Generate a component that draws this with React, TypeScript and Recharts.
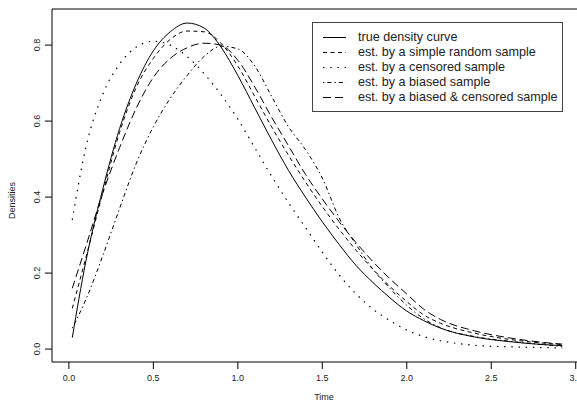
import { LineChart, Line, XAxis, YAxis, ReferenceLine } from 'recharts';

// values
const TIME = [0.02, 0.1, 0.2, 0.3, 0.4, 0.5, 0.6, 0.7, 0.8, 0.9, 1.0, 1.1, 1.2, 1.3, 1.4, 1.5, 1.6, 1.7, 1.8, 1.9, 2.0, 2.1, 2.2, 2.4, 2.6, 2.8, 2.92];
const TRUE_DENSITY = [0.03, 0.23, 0.42, 0.58, 0.7, 0.785, 0.835, 0.858, 0.845, 0.795, 0.72, 0.635, 0.55, 0.47, 0.4, 0.335, 0.275, 0.22, 0.175, 0.135, 0.1, 0.075, 0.055, 0.032, 0.02, 0.012, 0.009];
const SIMPLE_RANDOM = [0.107, 0.24, 0.41, 0.57, 0.69, 0.765, 0.815, 0.837, 0.835, 0.805, 0.745, 0.665, 0.585, 0.51, 0.44, 0.375, 0.315, 0.26, 0.21, 0.165, 0.125, 0.09, 0.068, 0.042, 0.026, 0.016, 0.012];
const CENSORED = [0.34, 0.53, 0.67, 0.75, 0.795, 0.81, 0.8, 0.77, 0.725, 0.67, 0.605, 0.53, 0.455, 0.385, 0.32, 0.255, 0.195, 0.145, 0.105, 0.075, 0.05, 0.033, 0.022, 0.01, 0.006, 0.004, 0.003];
const BIASED = [0.055, 0.13, 0.245, 0.37, 0.49, 0.585, 0.66, 0.72, 0.77, 0.797, 0.79, 0.745, 0.665, 0.585, 0.525, 0.45, 0.345, 0.275, 0.21, 0.16, 0.115, 0.08, 0.056, 0.033, 0.021, 0.012, 0.007];
const BIASED_CENSORED = [0.16, 0.27, 0.41, 0.53, 0.635, 0.715, 0.765, 0.793, 0.805, 0.8, 0.76, 0.69, 0.61, 0.535, 0.46, 0.395, 0.335, 0.28, 0.23, 0.185, 0.145, 0.105, 0.078, 0.048, 0.03, 0.018, 0.013];

const X_TICKS = [0, 0.5, 1, 1.5, 2, 2.5, 3];
const Y_TICKS = [0, 0.2, 0.4, 0.6, 0.8];

const SERIES = [
  { key: 'truth', name: 'true density curve', dash: undefined, width: 1 },
  { key: 'srs', name: 'est. by a simple random sample', dash: '4 3.5', width: 1 },
  { key: 'cens', name: 'est. by a censored sample', dash: '1.5 5.7', width: 1.2 },
  { key: 'biased', name: 'est. by a biased sample', dash: '1.4 3 4 3', width: 1 },
  { key: 'bc', name: 'est. by a biased & censored sample', dash: '8 4', width: 1 },
];

const data = TIME.map((t, i) => ({
  t,
  truth: TRUE_DENSITY[i],
  srs: SIMPLE_RANDOM[i],
  cens: CENSORED[i],
  biased: BIASED[i],
  bc: BIASED_CENSORED[i],
}));

const FONT = '"Liberation Sans", Arial, Helvetica, sans-serif';
const INK = '#222';

const YTick = ({ x, y, payload }: any) => (
  <text x={x} y={y} transform={`rotate(-90 ${x} ${y})`} textAnchor="middle" fontSize={9} fill={INK} fontFamily={FONT}>
    {Number(payload.value).toFixed(1)}
  </text>
);

export default function App() {
  return (
    <div style={{ position: 'absolute', left: 0, top: 0, width: 577, height: 406, overflow: 'hidden', background: '#fff', fontFamily: FONT }}>
      <LineChart width={600} height={406} data={data} margin={{ top: 9, right: 4, left: 0, bottom: 0 }}>
        <XAxis
          type="number"
          dataKey="t"
          domain={[-0.1, 3.12]}
          ticks={X_TICKS}
          allowDataOverflow
          tickFormatter={(v: number) => v.toFixed(1)}
          tick={{ fontSize: 9, fill: INK, fontFamily: FONT }}
          tickSize={7}
          tickMargin={6}
          height={44}
          stroke="#000"
          label={({ viewBox }: any) => (
            <text x={viewBox.x + viewBox.width / 2} y={viewBox.y + 38} textAnchor="middle" fontSize={9} fill={INK} fontFamily={FONT}>
              Time
            </text>
          )}
        />
        <YAxis
          type="number"
          domain={[-0.034, 0.895]}
          ticks={Y_TICKS}
          allowDataOverflow
          tick={<YTick />}
          tickSize={7}
          tickMargin={5}
          width={52}
          stroke="#000"
          label={({ viewBox }: any) => (
            <text
              x={15}
              y={viewBox.y + viewBox.height / 2 + 15}
              transform={`rotate(-90 15 ${viewBox.y + viewBox.height / 2 + 15})`}
              textAnchor="middle"
              fontSize={9}
              fill={INK}
              fontFamily={FONT}
            >
              Densities
            </text>
          )}
        />
        <ReferenceLine y={0.895} stroke="#000" />
        {SERIES.map((s) => (
          <Line
            key={s.key}
            dataKey={s.key}
            type="monotone"
            stroke="#000"
            strokeWidth={s.width}
            strokeDasharray={s.dash}
            dot={false}
            isAnimationActive={false}
          />
        ))}
      </LineChart>
      <div
        style={{
          position: 'absolute',
          left: 312,
          top: 22,
          width: 249,
          height: 81,
          border: '1px solid #444',
          padding: '7px 0 0 0',
          fontSize: 12.6,
          color: INK,
          lineHeight: '15px',
        }}
      >
        {SERIES.map((s) => (
          <div key={s.key} style={{ display: 'flex', alignItems: 'center', height: 15 }}>
            <svg width={45} height={15} style={{ flex: 'none' }}>
              <line x1={10} x2={33} y1={7.5} y2={7.5} stroke="#000" strokeWidth={s.width} strokeDasharray={s.dash} />
            </svg>
            <span style={{ whiteSpace: 'nowrap' }}>{s.name}</span>
          </div>
        ))}
      </div>
    </div>
  );
}
